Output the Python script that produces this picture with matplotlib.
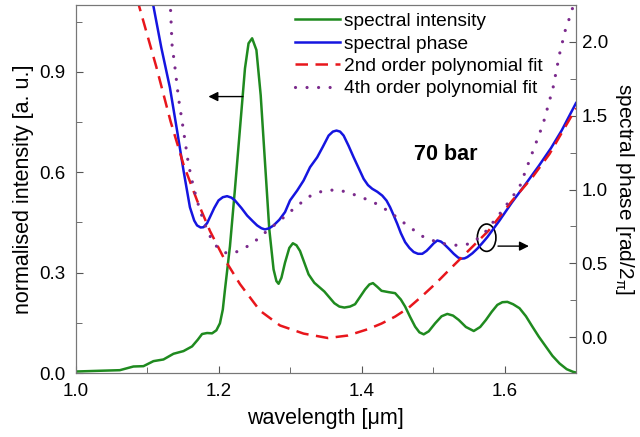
import matplotlib
matplotlib.use("Agg")
import matplotlib.pyplot as plt
from matplotlib.patches import Ellipse

plt.rcParams['font.family'] = ['Liberation Sans', 'DejaVu Sans']
plt.rcParams['mathtext.fontset'] = 'custom'
plt.rcParams['mathtext.rm'] = 'Liberation Sans'
plt.rcParams['mathtext.it'] = 'Liberation Sans'

# spectral intensity (left axis)
lam_int = [1.000, 1.030, 1.062, 1.081, 1.095, 1.109, 1.123, 1.137, 1.151, 1.163,
           1.171, 1.177, 1.184, 1.191, 1.197, 1.202, 1.206, 1.209, 1.216, 1.223,
           1.230, 1.237, 1.242, 1.247, 1.253, 1.259, 1.265, 1.271, 1.277, 1.281,
           1.284, 1.288, 1.293, 1.299, 1.304, 1.309, 1.314, 1.320, 1.326, 1.334,
           1.348, 1.362, 1.369, 1.376, 1.384, 1.391, 1.398, 1.405, 1.411, 1.416,
           1.422, 1.428, 1.438, 1.447, 1.455, 1.461, 1.468, 1.475, 1.481, 1.487,
           1.494, 1.503, 1.512, 1.520, 1.528, 1.536, 1.546, 1.557, 1.566, 1.574,
           1.582, 1.590, 1.597, 1.604, 1.612, 1.621, 1.630, 1.639, 1.648, 1.658,
           1.667, 1.677, 1.687, 1.696, 1.700]
intensity = [0.005, 0.007, 0.009, 0.020, 0.021, 0.036, 0.041, 0.058, 0.066, 0.080,
             0.100, 0.117, 0.120, 0.119, 0.128, 0.149, 0.190, 0.249, 0.379, 0.550,
             0.730, 0.910, 0.985, 1.000, 0.965, 0.830, 0.630, 0.430, 0.310, 0.275,
             0.267, 0.285, 0.330, 0.374, 0.388, 0.382, 0.365, 0.330, 0.295, 0.270,
             0.244, 0.209, 0.199, 0.196, 0.199, 0.206, 0.228, 0.250, 0.265, 0.269,
             0.258, 0.246, 0.242, 0.239, 0.220, 0.199, 0.168, 0.139, 0.122, 0.116,
             0.125, 0.149, 0.170, 0.177, 0.172, 0.159, 0.138, 0.126, 0.138, 0.159,
             0.183, 0.204, 0.212, 0.213, 0.206, 0.194, 0.170, 0.139, 0.109, 0.079,
             0.052, 0.029, 0.012, 0.004, 0.002]

# spectral phase (right axis)
lam_ph = [1.105, 1.109, 1.120, 1.132, 1.142, 1.151, 1.160, 1.166, 1.170, 1.175,
          1.179, 1.184, 1.188, 1.194, 1.200, 1.206, 1.212, 1.218, 1.223, 1.232,
          1.240, 1.248, 1.254, 1.260, 1.265, 1.271, 1.277, 1.285, 1.293, 1.300,
          1.310, 1.319, 1.328, 1.338, 1.346, 1.354, 1.360, 1.365, 1.370, 1.375,
          1.382, 1.389, 1.396, 1.403, 1.409, 1.415, 1.422, 1.429, 1.435, 1.440,
          1.445, 1.450, 1.455, 1.461, 1.467, 1.473, 1.479, 1.485, 1.491, 1.496,
          1.501, 1.506, 1.511, 1.515, 1.522, 1.529, 1.535, 1.539, 1.544, 1.548,
          1.555, 1.562, 1.569, 1.576, 1.593, 1.610, 1.630, 1.648, 1.665, 1.680,
          1.700]
phase = [2.35, 2.24, 1.96, 1.69, 1.40, 1.13, 0.88, 0.79, 0.757, 0.743,
         0.745, 0.772, 0.813, 0.875, 0.926, 0.948, 0.955, 0.945, 0.926, 0.875,
         0.824, 0.785, 0.757, 0.738, 0.730, 0.738, 0.757, 0.795, 0.847, 0.926,
         0.993, 1.061, 1.151, 1.218, 1.290, 1.365, 1.392, 1.399, 1.392, 1.365,
         1.295, 1.218, 1.145, 1.072, 1.030, 1.005, 0.985, 0.959, 0.925, 0.880,
         0.825, 0.768, 0.705, 0.644, 0.605, 0.577, 0.565, 0.565, 0.585, 0.610,
         0.636, 0.655, 0.648, 0.633, 0.600, 0.565, 0.540, 0.532, 0.534, 0.543,
         0.568, 0.600, 0.638, 0.678, 0.790, 0.910, 1.040, 1.160, 1.280, 1.400,
         1.585]

# 2nd order polynomial fit
lam_fit2 = [1.085, 1.089, 1.113, 1.133, 1.151, 1.170, 1.188, 1.207, 1.230, 1.258,
            1.286, 1.319, 1.353, 1.381, 1.409, 1.428, 1.447, 1.466, 1.485, 1.504,
            1.522, 1.550, 1.578, 1.611, 1.639, 1.663, 1.700]
fit2 = [2.35, 2.24, 1.83, 1.46, 1.17, 0.926, 0.72, 0.54, 0.36, 0.18,
        0.08, 0.025, -0.005, 0.012, 0.055, 0.093, 0.140, 0.200, 0.280, 0.365,
        0.453, 0.588, 0.723, 0.926, 1.083, 1.241, 1.550]

# 4th order polynomial fit
lam_fit4 = [1.130, 1.133, 1.135, 1.139, 1.144, 1.151, 1.158, 1.165, 1.174, 1.186,
            1.198, 1.206, 1.214, 1.222, 1.230, 1.247, 1.263, 1.286, 1.310, 1.328,
            1.347, 1.368, 1.394, 1.417, 1.440, 1.464, 1.487, 1.510, 1.534, 1.553,
            1.571, 1.597, 1.621, 1.639, 1.654, 1.668, 1.677, 1.686, 1.694, 1.698]
fit4 = [2.35, 2.21, 1.98, 1.83, 1.62, 1.40, 1.17, 1.016, 0.858, 0.700,
        0.610, 0.580, 0.565, 0.572, 0.588, 0.633, 0.700, 0.790, 0.890, 0.955,
        0.993, 0.998, 0.959, 0.914, 0.847, 0.757, 0.678, 0.637, 0.622, 0.633,
        0.700, 0.858, 1.016, 1.250, 1.444, 1.691, 1.917, 2.097, 2.200, 2.30]

fig = plt.figure(figsize=(6.4, 4.37), dpi=100)
ax = fig.add_axes([0.118, 0.146, 0.782, 0.843])
ax2 = ax.twinx()

green = '#1f8a1f'
blue = '#1515e0'
red = '#e8161c'
purple = '#7b2a8c'

l1, = ax.plot(lam_int, intensity, color=green, lw=1.8, label='spectral intensity')
l2, = ax2.plot(lam_ph, phase, color=blue, lw=1.8, label='spectral phase')
l3, = ax2.plot(lam_fit2, fit2, color=red, lw=1.8, linestyle=(0, (5, 3)),
               label='2nd order polynomial fit')
l4, = ax2.plot(lam_fit4, fit4, color=purple, lw=2.3, linestyle=(0, (0.01, 3.6)),
               dash_capstyle='round', label='4th order polynomial fit')

ax.set_xlim(1.0, 1.7)
ax.set_ylim(0, 1.1)

ax.set_xticks([1.0, 1.2, 1.4, 1.6])
ax.set_xticks([1.1, 1.3, 1.5, 1.7], minor=True)
ax.set_yticks([0.0, 0.3, 0.6, 0.9])
ax.set_yticks([0.15, 0.45, 0.75, 1.05], minor=True)
ax2.set_yticks([0.0, 0.5, 1.0, 1.5, 2.0])
ax2.set_yticks([-0.25, 0.25, 0.75, 1.25, 1.75], minor=True)
ax2.set_ylim(-0.243, 2.25)

for a in (ax, ax2):
    a.tick_params(which='both', direction='in', colors='#555555', labelcolor='black',
                  labelsize=13.5)
    a.tick_params(which='major', length=5)
    a.tick_params(which='minor', length=4)
    for s in a.spines.values():
        s.set_color('#777777')
ax.tick_params(axis='x', pad=7)
ax.tick_params(axis='y', pad=7)
ax2.tick_params(axis='y', pad=4)

ax.set_xlabel('wavelength [μm]', fontsize=15.5, labelpad=6)
ax.set_ylabel('normalised intensity [a. u.]', fontsize=15.5, labelpad=4)
ax2.set_ylabel('spectral phase [rad/2$_\\pi$]', fontsize=15, rotation=270, labelpad=20)

ax.legend(handles=[l1, l2, l3, l4], loc='upper left', bbox_to_anchor=(0.43, 0.989),
          frameon=False, fontsize=13.8, handlelength=2.35, handletextpad=0.25,
          labelspacing=0.26, borderpad=0.2, borderaxespad=0)

ax2.text(1.518, 1.24, '70 bar', fontsize=15.5, fontweight='bold', ha='center', va='center')

# arrows pointing to the axes
ax.annotate('', xy=(1.182, 0.826), xytext=(1.238, 0.826),
            arrowprops=dict(arrowstyle='-|>', color='black', lw=1.0, mutation_scale=14))
ax2.add_patch(Ellipse((1.575, 0.674), 0.026, 0.185, fill=False, edgecolor='black', lw=1.2))
ax2.annotate('', xy=(1.638, 0.617), xytext=(1.587, 0.617),
             arrowprops=dict(arrowstyle='-|>', color='black', lw=1.0, mutation_scale=14))

fig.savefig('out.png', dpi=100)
